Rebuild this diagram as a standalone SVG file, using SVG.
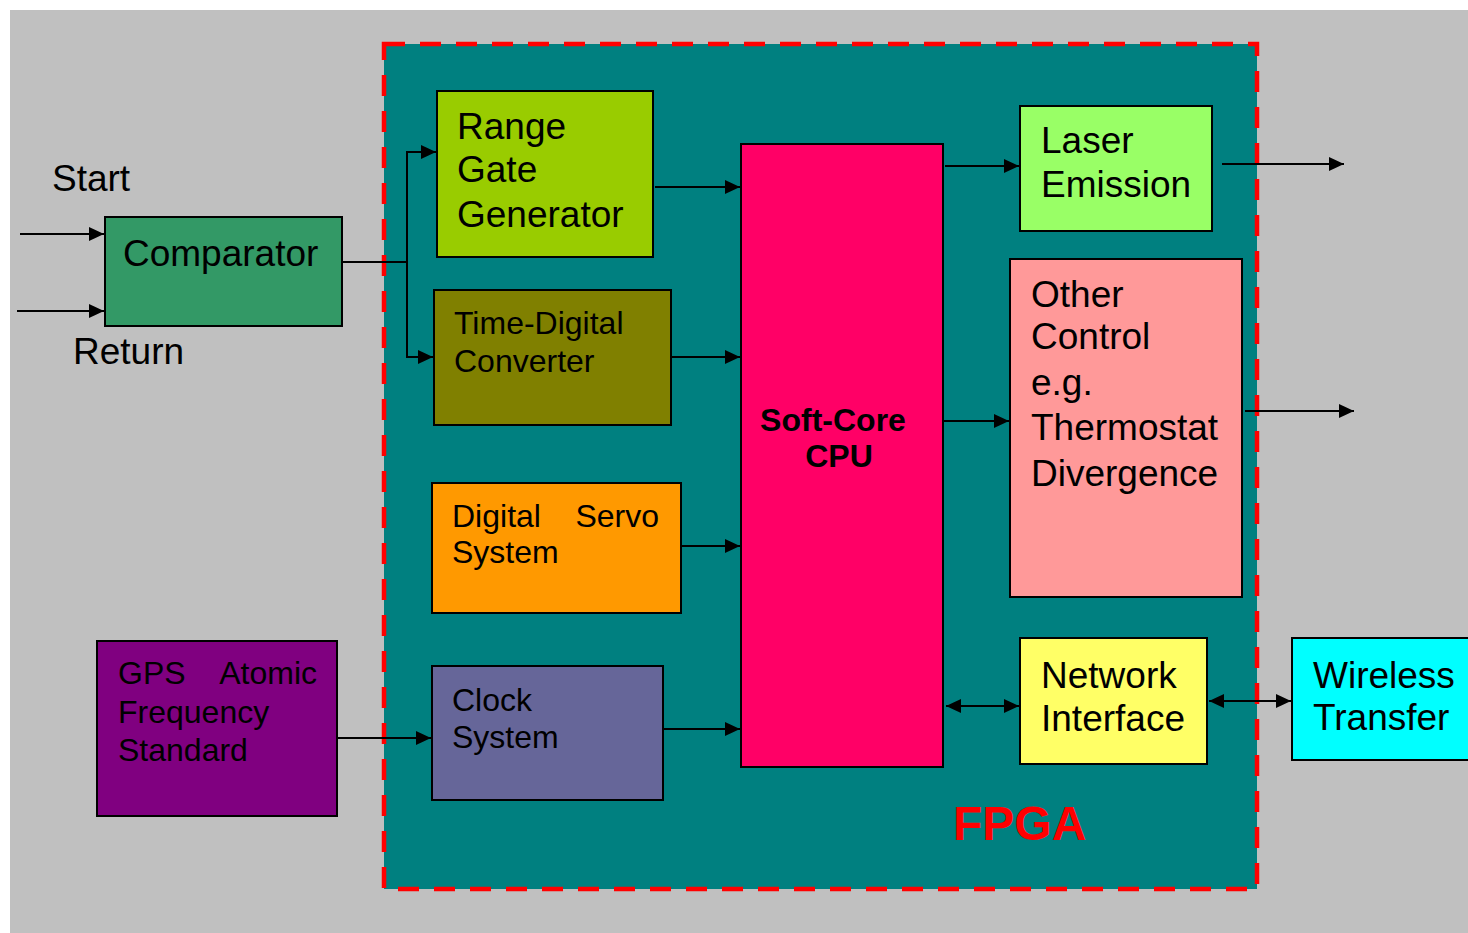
<svg xmlns="http://www.w3.org/2000/svg" width="1468" height="933" viewBox="0 0 1468 933">
<defs>
<marker id="ah" markerUnits="userSpaceOnUse" markerWidth="16" markerHeight="14" refX="15" refY="7" orient="auto-start-reverse" viewBox="0 0 16 14">
<path d="M0,0 L15,7 L0,14 z" fill="#000"/>
</marker>
<style>
.box{stroke:#000;stroke-width:2}
.t{font-family:"Liberation Sans",Arial,sans-serif;fill:#000}
.l36{font-size:37px}
.l31{font-size:32px}
.ln{stroke:#000;stroke-width:2;fill:none}
.arr{stroke:#000;stroke-width:2;fill:none;marker-end:url(#ah)}
.bi{stroke:#000;stroke-width:2;fill:none;marker-end:url(#ah);marker-start:url(#ah)}
</style>
</defs>
<rect x="0" y="0" width="1468" height="933" fill="#fff"/>
<rect x="10" y="10" width="1458" height="923" fill="#C0C0C0"/>
<g id="fpga">
<rect x="384" y="44" width="873" height="845" fill="#008080" stroke="#FF0000" stroke-width="4.5" stroke-dasharray="21 15"/>
<text class="t" x="953" y="840" font-size="48" font-weight="bold" style="fill:#FF0000">FPGA</text>
</g>
<g id="labels">
<text class="t l36" x="52" y="191">Start</text>
<text class="t l36" x="73" y="364">Return</text>
</g>
<g id="comparator">
<rect class="box" x="105" y="217" width="237" height="109" fill="#339966"/>
<text class="t l36" x="123" y="266">Comparator</text>
</g>
<g id="range-gate">
<rect class="box" x="437" y="91" width="216" height="166" fill="#99CC00"/>
<text class="t l36" x="457" y="139">Range</text>
<text class="t l36" x="457" y="182">Gate</text>
<text class="t l36" x="457" y="227">Generator</text>
</g>
<g id="tdc">
<rect class="box" x="434" y="290" width="237" height="135" fill="#808000"/>
<text class="t l31" x="454" y="334">Time-Digital</text>
<text class="t l31" x="454" y="372">Converter</text>
</g>
<g id="servo">
<rect class="box" x="432" y="483" width="249" height="130" fill="#FF9900"/>
<text class="t l31" x="452" y="527">Digital</text>
<text class="t l31" x="659" y="527" text-anchor="end">Servo</text>
<text class="t l31" x="452" y="563">System</text>
</g>
<g id="clock">
<rect class="box" x="432" y="666" width="231" height="134" fill="#666699"/>
<text class="t l31" x="452" y="711">Clock</text>
<text class="t l31" x="452" y="748">System</text>
</g>
<g id="gps">
<rect class="box" x="97" y="641" width="240" height="175" fill="#800080"/>
<text class="t l31" x="118" y="684">GPS</text>
<text class="t l31" x="317" y="684" text-anchor="end">Atomic</text>
<text class="t l31" x="118" y="723">Frequency</text>
<text class="t l31" x="118" y="761">Standard</text>
</g>
<g id="cpu">
<rect class="box" x="741" y="144" width="202" height="623" fill="#FF0066"/>
<text class="t" x="833" y="431" font-size="32" font-weight="bold" text-anchor="middle">Soft-Core</text>
<text class="t" x="839" y="467" font-size="32" font-weight="bold" text-anchor="middle">CPU</text>
</g>
<g id="laser">
<rect class="box" x="1020" y="106" width="192" height="125" fill="#99FF66"/>
<text class="t l36" x="1041" y="153">Laser</text>
<text class="t l36" x="1041" y="197">Emission</text>
</g>
<g id="other-control">
<rect class="box" x="1010" y="259" width="232" height="338" fill="#FF9999"/>
<text class="t l36" x="1031" y="307">Other</text>
<text class="t l36" x="1031" y="349">Control</text>
<text class="t l36" x="1031" y="395">e.g.</text>
<text class="t l36" x="1031" y="440">Thermostat</text>
<text class="t l36" x="1031" y="486">Divergence</text>
</g>
<g id="network">
<rect class="box" x="1020" y="638" width="187" height="126" fill="#FFFF66"/>
<text class="t l36" x="1041" y="688">Network</text>
<text class="t l36" x="1041" y="731">Interface</text>
</g>
<g id="wireless">
<rect class="box" x="1292" y="638" width="180" height="122" fill="#00FFFF"/>
<text class="t l36" x="1313" y="688">Wireless</text>
<text class="t l36" x="1313" y="730">Transfer</text>
</g>
<g id="connectors">
<line class="arr" x1="20" y1="234" x2="104" y2="234"/>
<line class="arr" x1="17" y1="311" x2="104" y2="311"/>
<polyline class="ln" points="342,262 407,262"/>
<polyline class="arr" points="407,262 407,152 436,152"/>
<polyline class="arr" points="407,262 407,357 433,357"/>
<line class="arr" x1="655" y1="187" x2="740" y2="187"/>
<line class="arr" x1="671" y1="357" x2="740" y2="357"/>
<line class="arr" x1="681" y1="546" x2="740" y2="546"/>
<line class="arr" x1="663" y1="729" x2="740" y2="729"/>
<line class="arr" x1="337" y1="738" x2="431" y2="738"/>
<line class="arr" x1="945" y1="166" x2="1019" y2="166"/>
<line class="arr" x1="943" y1="421" x2="1009" y2="421"/>
<line class="bi" x1="946" y1="706" x2="1019" y2="706"/>
<line class="bi" x1="1209" y1="701" x2="1291" y2="701"/>
<line class="arr" x1="1222" y1="164" x2="1344" y2="164"/>
<line class="arr" x1="1245" y1="411" x2="1354" y2="411"/>
</g>
</svg>
